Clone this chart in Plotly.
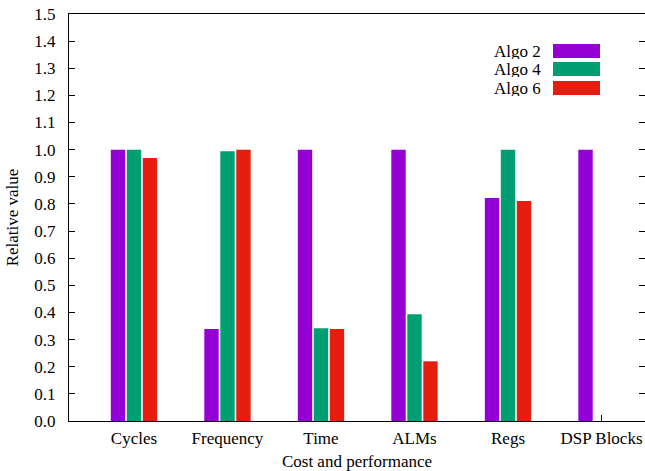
import plotly.graph_objects as go

categories = ["Cycles", "Frequency", "Time", "ALMs", "Regs", "DSP Blocks"]
series_names = ["Algo 2", "Algo 4", "Algo 6"]
algo2 = [1.0, 0.339, 1.0, 1.0, 0.822, 1.0]
algo4 = [1.0, 0.994, 0.342, 0.393, 1.0, 0.0]
algo6 = [0.969, 1.0, 0.339, 0.220, 0.811, 0.0]
y_ticks = [round(i * 0.1, 1) for i in range(16)]
colors = ["#9400D3", "#009E73", "#E51E10"]

FONT = "Liberation Serif"
FS = 17
W, H = 645, 471
ML, MR, MT, MB = 69, 0, 14, 50
PW, PH = W - ML - MR, H - MT - MB

fig = go.Figure()
for name, vals, col in zip(series_names, [algo2, algo4, algo6], colors):
    fig.add_trace(go.Bar(x=categories, y=vals, name=name,
                         marker=dict(color=col, line=dict(width=0)),
                         showlegend=False))

fig.update_layout(
    width=W, height=H,
    margin=dict(l=ML, r=MR, t=MT, b=MB, pad=0, autoexpand=False),
    paper_bgcolor="white", plot_bgcolor="white",
    barmode="group", bargap=0.487, bargroupgap=0.1,
    font=dict(family=FONT, size=FS, color="black"),
)
fig.update_xaxes(
    type="category", range=[-0.695, 5.465], automargin=False,
    showline=True, linecolor="black", linewidth=1, mirror=True,
    ticks="inside", ticklen=6, tickcolor="black", showgrid=False,
    layer="below traces", ticklabelstandoff=2, ticklabeloverflow="allow",
    title=dict(text="Cost and performance", font=dict(family=FONT, size=FS), standoff=13),
    tickfont=dict(family=FONT, size=FS),
)
fig.update_yaxes(
    range=[0, 1.5], tickvals=y_ticks, ticktext=[f"{v:.1f}" for v in y_ticks],
    automargin=False,
    showline=True, linecolor="black", linewidth=1, mirror="ticks",
    ticks="inside", ticklen=6, tickcolor="black", showgrid=False, zeroline=False,
    ticklabelstandoff=9, ticklabeloverflow="allow",
    title=dict(text="Relative value", font=dict(family=FONT, size=FS), standoff=11),
    tickfont=dict(family=FONT, size=FS),
)

# legend drawn gnuplot-style: label right-aligned, swatch to the right
def px_to_paper(x, y):
    return (x - ML) / PW, (H - MB - y) / PH

rows_y = [51, 69, 88]
for name, col, ry in zip(series_names, colors, rows_y):
    tx, ty = px_to_paper(542, ry)
    fig.add_annotation(x=tx, y=ty, xref="paper", yref="paper", text=name,
                       showarrow=False, xanchor="right", yanchor="middle",
                       height=16, borderpad=0,
                       font=dict(family=FONT, size=FS, color="black"))
    x0, y0 = px_to_paper(553, ry + 7)
    x1, y1 = px_to_paper(600, ry - 7)
    fig.add_shape(type="rect", xref="paper", yref="paper", x0=x0, y0=y0, x1=x1, y1=y1,
                  fillcolor=col, line=dict(width=0))

fig.write_html(
    "out.html",
    config={"displayModeBar": False},
    post_script=("document.documentElement.style.overflow='hidden';"
                 "document.body.style.margin='0';document.body.style.overflow='hidden';"),
)
